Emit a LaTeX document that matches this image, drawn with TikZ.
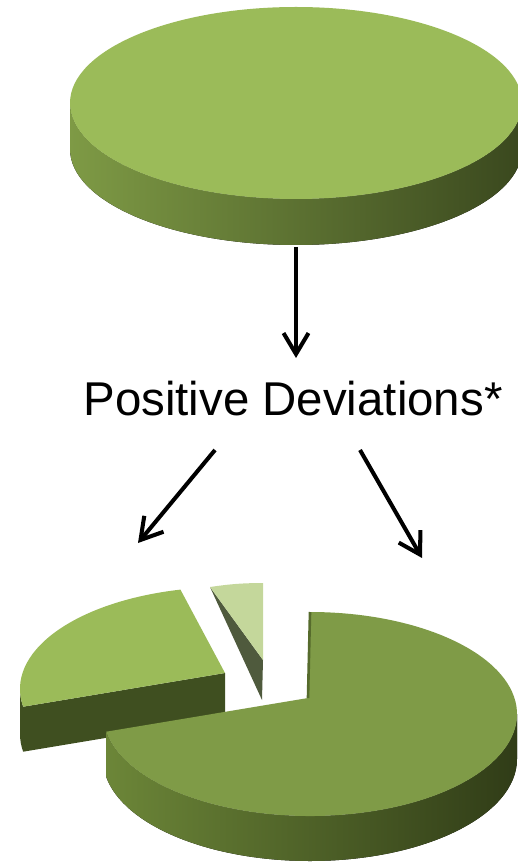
\documentclass[tikz,border=0pt]{standalone}
\usepackage{fontspec}
\setmainfont{Liberation Sans}
\usepackage{tikz}
\usetikzlibrary{arrows.meta, calc}
\definecolor{disktop}{HTML}{9BBB59}
\definecolor{disksideL}{HTML}{7E9A45}
\definecolor{disksideM}{HTML}{607834}
\definecolor{disksideR}{HTML}{3A481E}
\definecolor{bigtop}{HTML}{7F9B47}
\definecolor{bigsideL}{HTML}{6C8638}
\definecolor{bigsideM}{HTML}{566B2C}
\definecolor{bigsideR}{HTML}{303C17}
\definecolor{leftfront}{HTML}{3F4F20}
\definecolor{lighttop}{HTML}{C4D79B}
\definecolor{lightside}{HTML}{4F5A3D}

\begin{document}
\begin{tikzpicture}[x=0.02cm, y=0.02cm,
  arrow/.style={-{Straight Barb[length=0.42cm,width=0.5cm]}, line width=2.3pt, black},
  devtext/.style={font=\fontsize{27}{32}\selectfont, inner sep=0pt, anchor=base}
]
\useasboundingbox (0,0) rectangle (517,-864);

% whole disk
\begin{scope}[shift={(296,-103)}]
\fill[left color=disksideL, middle color=disksideM, right color=disksideR]
  (-226,0) arc[start angle=180, end angle=360, x radius=226, y radius=96]
  -- ++(0,-46) arc[start angle=360, end angle=180, x radius=226, y radius=96] -- cycle;
\fill[disktop] (0,0) ellipse[x radius=226, y radius=96];
\end{scope}

% split pie: left slice
\begin{scope}[shift={(227,-689)}]
\fill[leftfront] (180:207 and 102) arc[start angle=180, end angle=190, x radius=207, y radius=102]
  -- (-2,16) -- ++(0,-45) -- ($(190:207 and 102)+(0,-45)$)
  arc[start angle=190, end angle=180, x radius=207, y radius=102] -- cycle;
\fill[disktop] (-2,16) -- (103:207 and 102)
  arc[start angle=103, end angle=190, x radius=207, y radius=102] -- cycle;
\end{scope}

% split pie: small slice
\fill[lightside] (210,-587) -- (263,-660) -- (262,-700) -- cycle;
\fill[lighttop] (210,-587) to[bend left=4] (263,-583) -- (263,-660) -- cycle;

% split pie: large slice
\begin{scope}[shift={(310,-714)}]
\fill[left color=bigsideL, middle color=bigsideM, right color=bigsideR]
  (190:207 and 102) arc[start angle=190, end angle=360, x radius=207, y radius=102]
  -- ++(0,-45) arc[start angle=360, end angle=190, x radius=207, y radius=102] -- cycle;
\fill[bigtop] (-2,16) -- (190:207 and 102)
  arc[start angle=190, end angle=450, x radius=207, y radius=102] -- cycle;
\draw[bigsideM, line width=1.5pt] (0,102) -- (-2,16);
\end{scope}

\node[devtext] (dev) at (293,-415) {Positive Deviations*};

\coordinate (diskbase) at (296,-247);
\coordinate (devtop) at (296,-358);
\coordinate (devleft) at (215,-450);
\coordinate (devright) at (360,-450);
\coordinate (smallpart) at (138,-543);
\coordinate (largepart) at (422,-558);

\draw[arrow] (diskbase) -- (devtop);
\draw[arrow] (devleft) -- (smallpart);
\draw[arrow] (devright) -- (largepart);
\end{tikzpicture}
\end{document}
